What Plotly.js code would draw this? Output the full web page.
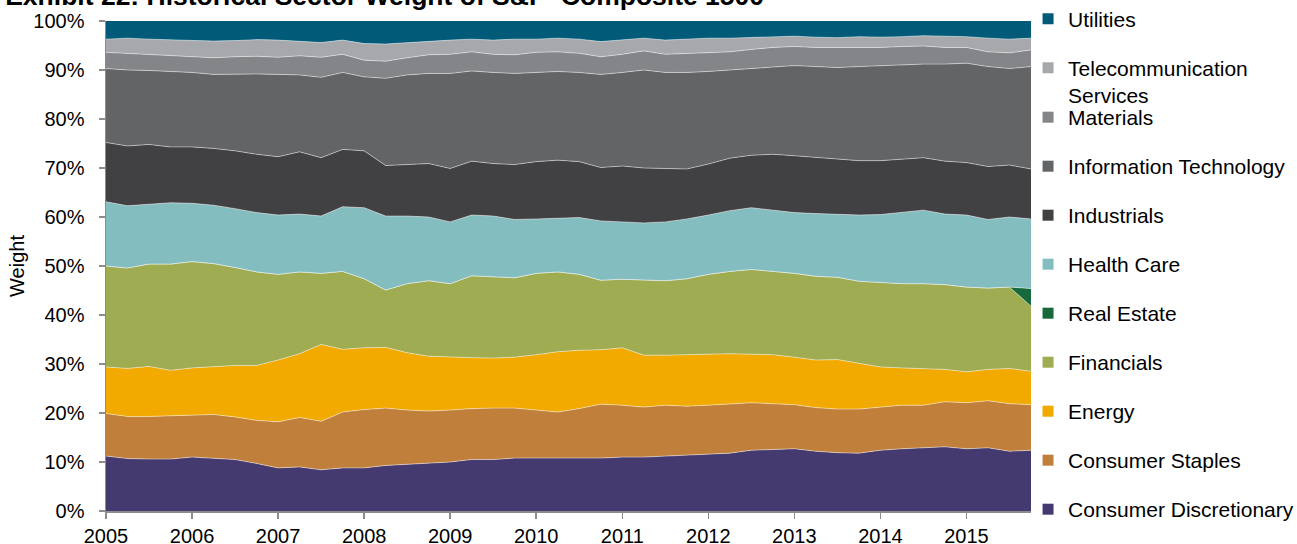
<!DOCTYPE html>
<html>
<head>
<meta charset="utf-8">
<script src="https://cdn.plot.ly/plotly-3.0.1.min.js"></script>
<style>
  html, body { margin: 0; padding: 0; background: #ffffff; }
  #chart { width: 1297px; height: 544px; }
</style>
</head>
<body>
<div id="chart"></div>
<script>
// Quarter-end dates (decimal years)
const quarters = [2005.00, 2005.25, 2005.50, 2005.75, 2006.00, 2006.25, 2006.50, 2006.75,
  2007.00, 2007.25, 2007.50, 2007.75, 2008.00, 2008.25, 2008.50, 2008.75,
  2009.00, 2009.25, 2009.50, 2009.75, 2010.00, 2010.25, 2010.50, 2010.75,
  2011.00, 2011.25, 2011.50, 2011.75, 2012.00, 2012.25, 2012.50, 2012.75,
  2013.00, 2013.25, 2013.50, 2013.75, 2014.00, 2014.25, 2014.50, 2014.75,
  2015.00, 2015.25, 2015.50, 2015.75];

// Sector weights (%)
const consumerDiscretionary = [11.2,10.7,10.6,10.6,11.0,10.8,10.5,9.7,8.8,9.0,8.4,8.8,8.8,9.3,9.5,9.7,10.0,10.5,10.5,10.8,10.8,10.7,10.8,10.8,11.0,11.0,11.2,11.4,11.7,11.8,12.4,12.6,12.7,12.2,11.9,11.8,12.4,12.7,12.9,13.1,12.7,12.9,12.2,12.4];
const consumerStaples = [8.7,8.6,8.7,8.8,8.5,8.9,8.7,8.8,9.4,10.1,9.9,11.4,11.9,11.7,11.1,10.7,10.6,10.4,10.5,10.2,9.8,9.5,10.1,11.0,10.6,10.2,10.4,10.0,9.9,10.1,9.7,9.3,9.0,8.9,8.9,9.0,8.8,8.9,8.7,9.2,9.4,9.6,9.7,9.3];
const energy = [9.5,9.8,10.2,9.3,9.7,9.8,10.5,11.2,12.6,13.0,15.7,12.8,12.6,12.4,11.7,11.2,10.8,10.4,10.2,10.4,11.3,12.3,11.9,11.1,11.7,10.6,10.2,10.5,10.3,10.2,9.9,10.0,9.7,9.7,10.1,9.3,8.2,7.6,7.5,6.6,6.3,6.4,7.2,6.8];
const financials = [20.6,20.5,20.9,21.7,21.7,21.0,20.0,19.1,17.5,16.7,14.5,15.9,14.1,11.7,14.1,15.4,15.0,16.7,16.6,16.2,16.6,16.3,15.5,14.2,14.0,15.4,15.2,15.5,16.4,16.8,17.3,17.0,17.1,17.1,16.8,16.8,17.2,17.2,17.3,17.3,17.3,16.6,16.6,13.3];
const realEstate = [0,0,0,0,0,0,0,0,0,0,0,0,0,0,0,0,0,0,0,0,0,0,0,0,0,0,0,0,0,0,0,0,0,0,0,0,0,0,0,0,0,0,0,3.6];
const healthCare = [13.1,12.7,12.2,12.5,11.9,11.9,12.0,12.1,12.1,11.8,11.7,13.2,14.5,15.1,13.8,13.0,12.6,12.4,12.4,11.9,11.1,11.0,11.6,12.1,11.7,11.6,12.0,12.2,12.1,12.4,12.6,12.5,12.4,12.8,12.8,13.5,13.9,14.5,15.0,14.4,14.7,14.0,14.3,14.2];
const industrials = [12.1,12.2,12.2,11.4,11.5,11.6,11.8,11.9,11.9,12.7,11.9,11.7,11.6,10.3,10.5,10.9,10.9,11.0,10.7,11.2,11.7,11.8,11.4,10.9,11.4,11.2,10.9,10.2,10.4,10.7,10.7,11.4,11.6,11.5,11.3,11.1,11.0,10.9,10.7,10.8,10.7,10.8,10.6,10.2];
const informationTechnology = [15.1,15.5,15.1,15.4,15.2,15.1,15.7,16.4,16.8,15.7,16.4,15.7,15.1,17.8,18.3,18.4,19.4,18.4,18.6,18.6,18.2,18.1,18.2,19.0,19.1,20.0,19.6,19.7,18.9,18.0,17.7,17.9,18.4,18.5,18.7,19.2,19.4,19.2,19.1,19.8,20.3,20.4,19.7,20.9];
const materials = [3.3,3.4,3.3,3.2,3.3,3.4,3.5,3.6,3.5,3.9,4.1,3.7,3.4,3.5,3.5,3.8,3.9,3.9,3.7,3.8,4.1,4.0,3.9,3.6,3.7,3.9,3.7,3.9,3.8,3.7,3.9,3.9,3.9,3.9,4.1,3.9,3.7,3.8,3.7,3.4,3.2,3.0,3.2,3.4];
const telecom = [2.7,3.1,3.1,3.3,3.3,3.4,3.3,3.4,3.5,3.0,3.0,2.9,3.4,3.5,3.1,2.8,2.9,2.6,2.9,3.2,2.7,2.8,2.9,3.1,2.9,2.6,2.9,2.9,3.0,2.8,2.4,2.2,2.1,2.1,2.0,2.2,2.1,2.0,2.1,2.3,2.2,2.8,2.8,2.4];
const utilities = [3.7,3.5,3.7,3.8,3.9,4.1,4.0,3.8,3.9,4.1,4.4,3.9,4.6,4.7,4.4,4.1,3.9,3.7,3.9,3.7,3.7,3.5,3.7,4.2,3.9,3.5,3.9,3.7,3.5,3.5,3.4,3.2,3.1,3.3,3.4,3.2,3.3,3.2,3.0,3.1,3.2,3.5,3.7,3.5];

// Bottom-to-top stacking order
const sectorNames = ['Consumer Discretionary','Consumer Staples','Energy','Financials','Real Estate',
  'Health Care','Industrials','Information Technology','Materials','Telecommunication<br>Services','Utilities'];
const sectorValues = [consumerDiscretionary, consumerStaples, energy, financials, realEstate,
  healthCare, industrials, informationTechnology, materials, telecom, utilities];
const sectorColors = ['#443A70','#C17F3C','#F2A900','#A0AC52','#17683A',
  '#84BDC0','#414042','#636466','#848589','#A7A8AC','#005A78'];

const FONT = 'Liberation Sans, Arial, sans-serif';
const traces = [];
sectorNames.forEach((name, k) => {
  traces.push({
    type: 'scatter', mode: 'lines', x: quarters, y: sectorValues[k],
    stackgroup: 'one', name: name.replace('<br>', ' '),
    line: { width: k === sectorNames.length - 1 ? 0 : 1, color: 'rgba(255,255,255,0.45)' },
    fillcolor: sectorColors[k], showlegend: false, hoverinfo: 'x+y+name'
  });
});
// Legend entries (top to bottom as in the reference)
for (let k = sectorNames.length - 1; k >= 0; k--) {
  traces.push({
    type: 'scatter', mode: 'markers', x: [null], y: [null], name: sectorNames[k],
    marker: { symbol: 'square', size: 11, color: sectorColors[k] },
    legendgroup: 'g' + k, showlegend: true,
    legend: k >= 9 ? 'legend' : 'legend2', hoverinfo: 'skip'
  });
}

const legendCommon = {
  xref: 'paper', yref: 'paper', x: 0.9968, xanchor: 'left', yanchor: 'top',
  font: { family: FONT, size: 21, color: '#000000' }, bgcolor: 'rgba(0,0,0,0)',
  borderwidth: 0, traceorder: 'grouped', tracegroupgap: 18.7, valign: 'top',
  itemclick: false, itemdoubleclick: false
};

const layout = {
  width: 1297, height: 544,
  margin: { l: 106, r: 266, t: 21, b: 33, autoexpand: false },
  paper_bgcolor: '#ffffff', plot_bgcolor: '#ffffff',
  font: { family: FONT, size: 20, color: '#000000' },
  title: {
    text: 'Exhibit 22: Historical Sector Weight of S&P  Composite 1500',
    font: { family: FONT, size: 26.5, color: '#000000', weight: 'bold' },
    x: 0.004, xanchor: 'left', xref: 'container',
    y: 1, yanchor: 'bottom', yref: 'paper', pad: { b: 16 }
  },
  xaxis: {
    range: [2005, 2015.75], tickmode: 'linear', tick0: 2005, dtick: 1, tickformat: 'd',
    ticks: 'outside', ticklen: 6, tickwidth: 1.5, tickcolor: '#8c8c8c',
    showline: true, linecolor: '#8c8c8c', linewidth: 2,
    showgrid: false, zeroline: false,
    tickfont: { family: FONT, size: 20, color: '#000000' }
  },
  yaxis: {
    range: [0, 100], tickmode: 'linear', tick0: 0, dtick: 10, ticksuffix: '%',
    ticks: 'outside', ticklen: 6, tickwidth: 1.5, tickcolor: '#8c8c8c',
    showline: true, linecolor: '#8c8c8c', linewidth: 1.5,
    showgrid: false, zeroline: false, ticklabelstandoff: 10,
    tickfont: { family: FONT, size: 20, color: '#000000' },
    title: { text: 'Weight', font: { family: FONT, size: 20, color: '#000000' }, standoff: 3 }
  },
  legend: Object.assign({}, legendCommon, { y: 1.0456 }),
  legend2: Object.assign({}, legendCommon, { y: 0.8448 }),
  showlegend: true
};

Plotly.newPlot('chart', traces, layout, { displayModeBar: false, staticPlot: true });
</script>
</body>
</html>
